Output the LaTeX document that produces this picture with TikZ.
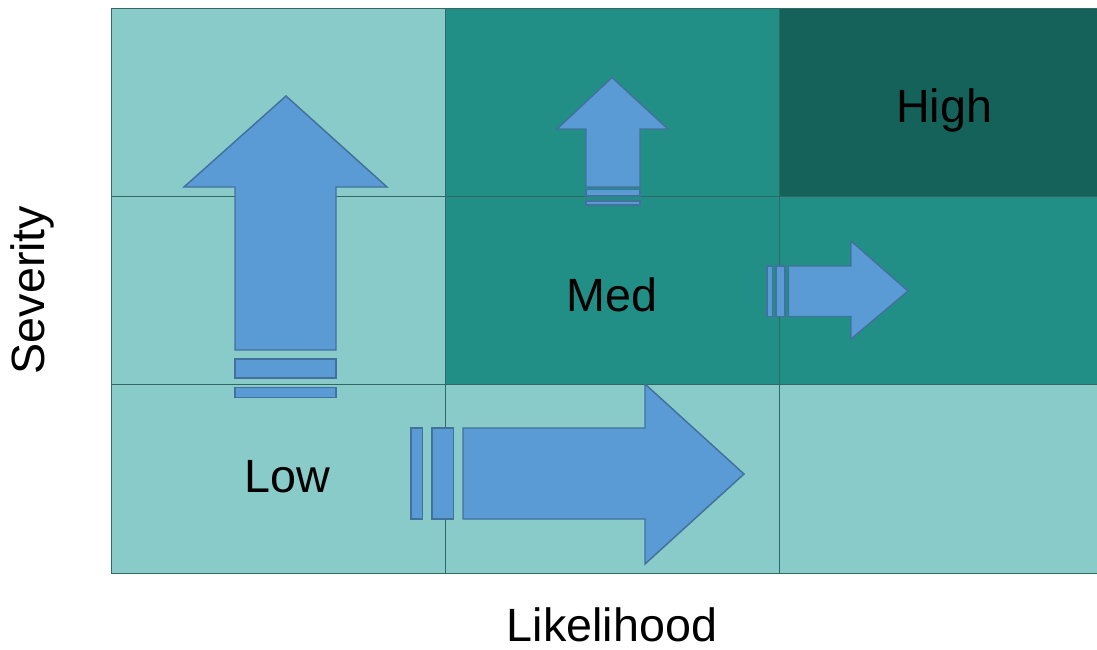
\documentclass[tikz,border=0pt]{standalone}
\usepackage{fontspec}
\setmainfont{Liberation Sans}
\definecolor{cellLight}{RGB}{137,203,200}
\definecolor{cellMed}{RGB}{33,143,133}
\definecolor{cellHigh}{RGB}{20,98,90}
\definecolor{gridLine}{RGB}{52,104,98}
\definecolor{arrowFill}{RGB}{91,155,213}
\definecolor{arrowLine}{RGB}{65,113,156}
\tikzset{
  cell/.style={draw=gridLine, line width=0.6},
  blockarrow/.style={fill=arrowFill, draw=arrowLine, line width=1.1, line join=miter},
  bigtext/.style={font=\fontsize{35}{42}\selectfont, inner sep=0pt}
}

\begin{document}
\begin{tikzpicture}[x=0.75pt,y=0.75pt,yscale=-1,xscale=1]
\useasboundingbox (0,0) rectangle (1097,650);
\clip (0,0) rectangle (1097,650);

%Shape: Rectangle [row 1]
\draw [cell, fill=cellLight] (111,8) rectangle (445,196) ;
\draw [cell, fill=cellMed] (445,8) rectangle (779,196) ;
\draw [cell, fill=cellHigh] (779,8) rectangle (1113,196) ;
%Shape: Rectangle [row 2]
\draw [cell, fill=cellLight] (111,196) rectangle (445,384) ;
\draw [cell, fill=cellMed] (445,196) rectangle (779,384) ;
\draw [cell, fill=cellMed] (779,196) rectangle (1113,384) ;
%Shape: Rectangle [row 3]
\draw [cell, fill=cellLight] (111,384) rectangle (445,573) ;
\draw [cell, fill=cellLight] (445,384) rectangle (779,573) ;
\draw [cell, fill=cellLight] (779,384) rectangle (1113,573) ;

%Shape: Up Arrow [big]
\draw [blockarrow] (235,350) -- (235,187) -- (184,187) -- (286,96) -- (387,187) -- (336,187) -- (336,350) -- cycle ;
\draw [blockarrow] (235,359) rectangle (336,378) ;
\draw [blockarrow] (235,387.5) rectangle (336,397.5) ;

%Shape: Right Arrow [big]
\draw [blockarrow] (463,428) -- (645,428) -- (645,384) -- (744,474) -- (645,564) -- (645,519) -- (463,519) -- cycle ;
\draw [blockarrow] (411,428) rectangle (422.5,519) ;
\draw [blockarrow] (432,428) rectangle (453.5,519) ;

%Shape: Up Arrow [small]
\draw [blockarrow] (586,187) -- (586,129) -- (557,129) -- (612,77.5) -- (668,129) -- (640,129) -- (640,187) -- cycle ;
\draw [blockarrow] (586,189.5) rectangle (640,196) ;
\draw [blockarrow] (586,201) rectangle (640,205) ;

%Shape: Right Arrow [small]
\draw [blockarrow] (788.5,266) -- (851,266) -- (851,241) -- (908,291) -- (851,339) -- (851,316.5) -- (788.5,316.5) -- cycle ;
\draw [blockarrow] (767,266) rectangle (772.5,316.5) ;
\draw [blockarrow] (776,266) rectangle (785,316.5) ;

% Text Node
\node [bigtext] (high) at (944,110) {High};
\node [bigtext] (med) at (612,295) {Med};
\node [bigtext] (low) at (287,477) {Low};
\node [bigtext, rotate=90] (severity) at (32,290) {Severity};
\node [bigtext] (likelihood) at (612,625) {Likelihood};

\end{tikzpicture}
\end{document}
